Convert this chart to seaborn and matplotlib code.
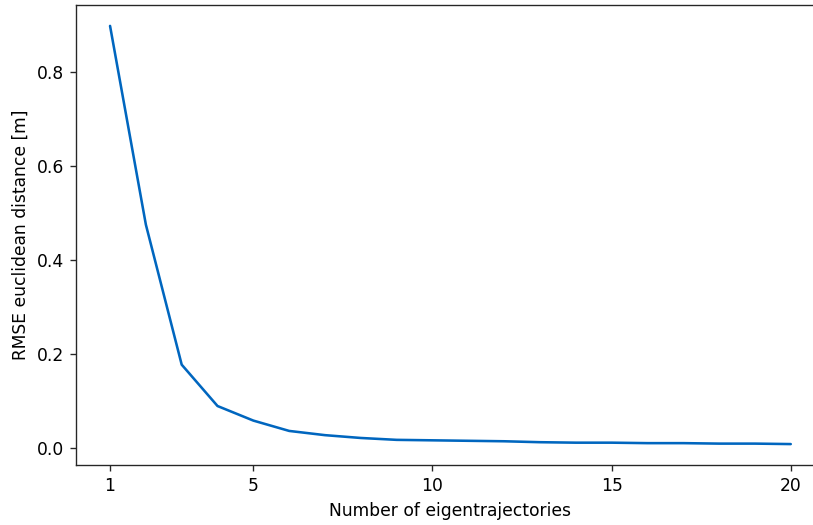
import matplotlib
matplotlib.use("Agg")
import matplotlib.pyplot as plt
import seaborn as sns
import pandas as pd

n_eigen = list(range(1, 21))
rmse = [0.898, 0.475, 0.177, 0.089, 0.058, 0.036, 0.027, 0.021, 0.017, 0.016,
        0.015, 0.014, 0.012, 0.011, 0.011, 0.010, 0.010, 0.009, 0.009, 0.008]
xticks = [1, 5, 10, 15, 20]
yticks = [0.0, 0.2, 0.4, 0.6, 0.8]

df = pd.DataFrame({"n": n_eigen, "rmse": rmse})

sns.set_style("ticks")
plt.rcParams['font.family'] = ['DejaVu Sans']
s = 1.23
plt.rcParams.update({
    "xtick.major.size": 3.5 * s, "ytick.major.size": 3.5 * s,
    "xtick.major.pad": 3.5 * s, "ytick.major.pad": 3.5 * s,
    "xtick.major.width": 0.8 * s, "ytick.major.width": 0.8 * s,
    "axes.linewidth": 0.8 * s, "axes.labelpad": 4.0 * s,
})

fig = plt.figure(figsize=(8.13, 5.25), dpi=100)
ax = fig.add_axes([0.0935, 0.1143, 0.921, 0.8762])
sns.lineplot(data=df, x="n", y="rmse", ax=ax, color="#0066BF", linewidth=1.5 * s)
ax.set_xticks(xticks)
ax.set_yticks(yticks)
ax.set_xlabel("Number of eigentrajectories", fontsize=10 * s, color="black")
ax.set_ylabel("RMSE euclidean distance [m]", fontsize=10 * s, color="black")
ax.tick_params(labelsize=10 * s, color=".15", labelcolor="black")
for sp in ax.spines.values():
    sp.set_color(".15")
fig.savefig("out.png", dpi=100)
